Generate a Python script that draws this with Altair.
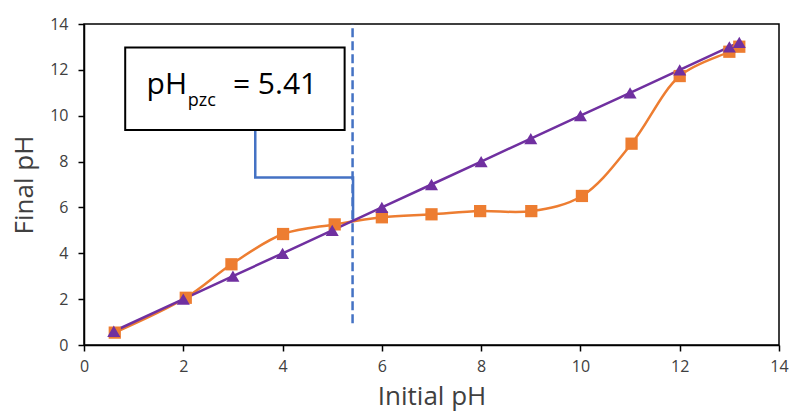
import altair as alt
import pandas as pd

# Data
initial_ph = [0.62, 2.05, 2.97, 4.01, 5.05, 6.0, 7.0, 7.98, 9.01, 10.03, 11.03, 12.0, 13.0, 13.2]
final_ph_sample = [0.54, 2.06, 3.52, 4.84, 5.26, 5.57, 5.70, 5.84, 5.84, 6.50, 8.78, 11.73, 12.79, 13.01]
ref_x = [0.6, 2.0, 3.0, 4.0, 5.0, 6.0, 7.0, 8.0, 9.0, 10.0, 11.0, 12.0, 13.0, 13.2]
ref_y = [0.6, 2.0, 3.0, 4.0, 5.0, 6.0, 7.0, 8.0, 9.0, 10.0, 11.0, 12.0, 13.0, 13.2]
x_ticks = [0, 2, 4, 6, 8, 10, 12, 14]
y_ticks = [0, 2, 4, 6, 8, 10, 12, 14]

ph_pzc = 5.41
dash_y = [0.95, 14.0]
box_x = [0.83, 5.25]
box_y = [9.38, 12.98]
conn_x = [3.45, 3.45, 5.42, 5.42]
conn_y = [9.38, 7.30, 7.30, 5.45]
label_texts = ["pH", "pzc", "= 5.41"]
label_x = [1.26, 2.09, 3.0]
label_y = [10.95, 10.42, 10.95]
label_size = [30, 18, 30]

ORANGE = "#ED7D31"
PURPLE = "#7030A0"
BLUE = "#4472C4"
FONT = "Open Sans"

xs = alt.Scale(domain=[0, 14], nice=False)
ys = alt.Scale(domain=[0, 14], nice=False)

df_s = pd.DataFrame({"x": initial_ph, "y": final_ph_sample})
df_r = pd.DataFrame({"x": ref_x, "y": ref_y})

X = alt.X("x:Q", scale=xs, axis=alt.Axis(values=x_ticks, title="Initial pH", grid=False,
                                          labelFlush=False, labelPadding=7, titlePadding=9))
Y = alt.Y("y:Q", scale=ys, axis=alt.Axis(values=y_ticks, title="Final pH", grid=False,
                                          labelPadding=10, titlePadding=12))

dash = alt.Chart(pd.DataFrame({"x": [ph_pzc, ph_pzc], "y": dash_y})).mark_line(
    color=BLUE, strokeWidth=2.5, strokeDash=[9, 4]
).encode(x=alt.X("x:Q", scale=xs), y=alt.Y("y:Q", scale=ys))

conn = alt.Chart(pd.DataFrame({"x": conn_x, "y": conn_y, "o": [0, 1, 2, 3]})).mark_line(
    color=BLUE, strokeWidth=2.5
).encode(x=alt.X("x:Q", scale=xs), y=alt.Y("y:Q", scale=ys), order="o:Q")

box = alt.Chart(pd.DataFrame({"x": [box_x[0]], "x2": [box_x[1]], "y": [box_y[0]], "y2": [box_y[1]]})).mark_rect(
    fill="white", stroke="black", strokeWidth=2
).encode(x=alt.X("x:Q", scale=xs), x2="x2:Q", y=alt.Y("y:Q", scale=ys), y2="y2:Q")

label_parts = pd.DataFrame({"x": label_x, "y": label_y, "t": label_texts, "s": label_size})
txt = alt.Chart(label_parts).mark_text(
    align="left", baseline="alphabetic", font=FONT, color="black"
).encode(
    x=alt.X("x:Q", scale=xs), y=alt.Y("y:Q", scale=ys), text="t:N",
    size=alt.Size("s:Q", scale=None, legend=None)
)

line_s = alt.Chart(df_s).mark_line(color=ORANGE, strokeWidth=2.5, interpolate="catmull-rom").encode(x=X, y=Y)
line_r = alt.Chart(df_r).mark_line(color=PURPLE, strokeWidth=2.5).encode(x=X, y=Y)
pts_s = alt.Chart(df_s).mark_point(shape="square", filled=True, opacity=1, color=ORANGE, size=150).encode(x=X, y=Y)
pts_r = alt.Chart(df_r).mark_point(shape="triangle-up", filled=True, opacity=1, color=PURPLE, size=170).encode(x=X, y=Y)

chart = alt.layer(dash, conn, line_s, line_r, pts_s, pts_r, box, txt).properties(
    width=695, height=321,
    autosize=alt.AutoSizeParams(type="none"),
    padding={"left": 84, "top": 24, "right": 14, "bottom": 67},
).configure_view(
    stroke="black", strokeWidth=1.5
).configure_axis(
    domainColor="black", domainWidth=1.5, tickColor="black", tickWidth=1.5, tickSize=6,
    labelFont=FONT, labelFontSize=16, labelColor="#404040",
    titleFont=FONT, titleFontSize=26, titleFontWeight="normal", titleColor="#404040",
)

chart.save("out.html", embed_options={"renderer": "svg", "actions": False})
